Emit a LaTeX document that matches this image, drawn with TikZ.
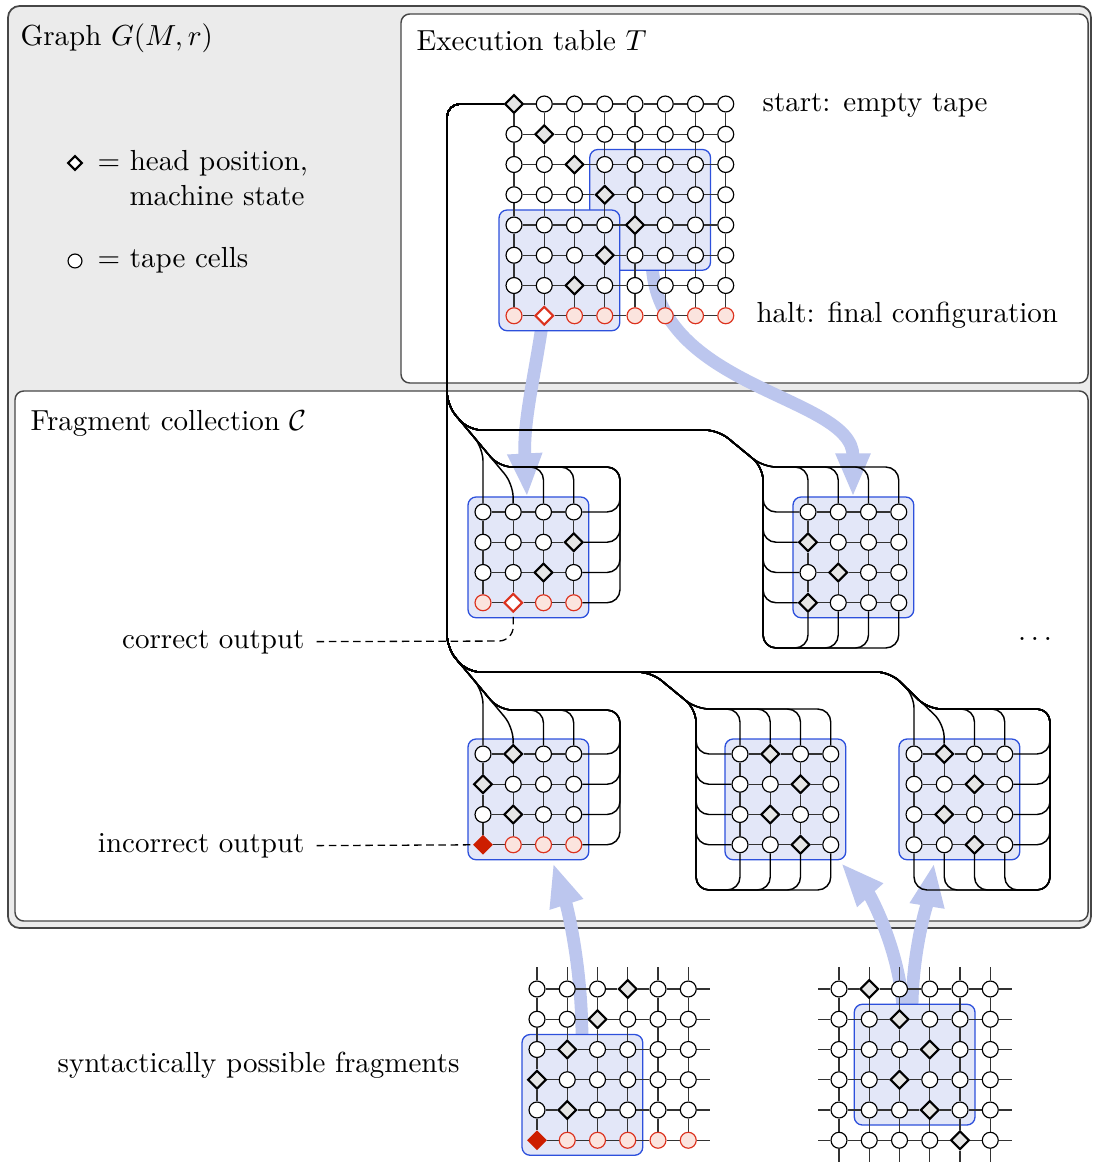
\documentclass[tikz,border=0pt]{standalone}
\usetikzlibrary{shapes.geometric,arrows.meta,calc}
\definecolor{bgray}{RGB}{235,235,235}
\definecolor{framec}{RGB}{70,70,70}
\definecolor{boxfill}{RGB}{227,231,248}
\definecolor{boxline}{RGB}{45,80,220}
\definecolor{arrowc}{RGB}{188,198,238}
\definecolor{redline}{RGB}{220,50,30}
\definecolor{redfill}{RGB}{251,228,222}
\definecolor{redfull}{RGB}{205,30,0}
\definecolor{diamfill}{RGB}{230,230,230}
\pgfdeclarelayer{frames}
\pgfdeclarelayer{arrowlayer}
\pgfdeclarelayer{boxlayer}
\pgfdeclarelayer{lines}
\pgfsetlayers{frames,arrowlayer,boxlayer,lines,main}
\tikzset{
  cellc/.style={circle,draw=black,fill=white,line width=0.4pt,minimum size=5.5pt,inner sep=0pt},
  celld/.style={diamond,draw=black,fill=diamfill,line width=0.75pt,minimum size=6.4pt,inner sep=0pt},
  cello/.style={circle,draw=redline,fill=redfill,line width=0.4pt,minimum size=5.5pt,inner sep=0pt},
  cellx/.style={diamond,draw=redline,fill=white,line width=0.75pt,minimum size=6.4pt,inner sep=0pt},
  cellf/.style={diamond,draw=redfull,fill=redfull,line width=0.4pt,minimum size=6.4pt,inner sep=0pt},
  legd/.style={diamond,draw=black,fill=white,line width=0.75pt,minimum size=5pt,inner sep=0pt},
  legc/.style={circle,draw=black,fill=white,line width=0.4pt,minimum size=4.8pt,inner sep=0pt},
  gridline/.style={draw=black!80,line width=0.42pt},
  bundle/.style={draw=black,line width=0.5pt,rounded corners=4.5pt},
  bluebox/.style={draw=boxline,fill=boxfill,line width=0.45pt,rounded corners=2.8pt},
  bigarrow/.style={draw=arrowc,line width=4.4pt,-{Triangle[width=11pt,length=15pt]}},
  boxframe/.style={draw=framec,line width=0.5pt},
  lbl/.style={inner sep=0pt,font=\normalsize},
  dashline/.style={draw=black,line width=0.45pt,dash pattern=on 2.6pt off 1.6pt,rounded corners=5pt},
}
\newcommand\mkgrid[4]{%
  \foreach \rspec [count=\ri from 0] in {#4} {%
    \foreach \tp [count=\ci from 0] in \rspec {%
      \node[cell\tp] (#1-\ri-\ci) at ({#2+\ci*30.25},{#3+\ri*30.25}) {};
    }%
  }%
}
\newcommand\mkedges[3]{%
  \foreach \ri in {0,...,#2} {\foreach \ci in {1,...,#3} {%
    \pgfmathtruncatemacro\cp{\ci-1}%
    \draw[gridline] (#1-\ri-\cp) -- (#1-\ri-\ci);}}%
  \foreach \ci in {0,...,#3} {\foreach \ri in {1,...,#2} {%
    \pgfmathtruncatemacro\rp{\ri-1}%
    \draw[gridline] (#1-\rp-\ci) -- (#1-\ri-\ci);}}%
}
\begin{document}
\begin{tikzpicture}[x=0.3448pt,y=-0.3448pt]
\useasboundingbox (0,0) rectangle (1092,1162);

% frames
\begin{pgfonlayer}{frames}
\draw[boxframe,fill=bgray,rounded corners=4pt,line width=0.6pt] (8,6) rectangle (1091,928);
\draw[boxframe,fill=white,rounded corners=3pt] (401,14) rectangle (1088,383);
\draw[boxframe,fill=white,rounded corners=3pt] (15,391) rectangle (1088,921);
\end{pgfonlayer}

% texts
\node[lbl,anchor=base west] (ttlG) at (20,46) {Graph $G(M,r)$};
\node[lbl,anchor=base west] (ttlT) at (416,51) {Execution table $T$};
\node[lbl,anchor=base west] (ttlC) at (30,431) {Fragment collection $\mathcal{C}$};
\node[lbl,anchor=base west] (start) at (762,112) {start: empty tape};
\node[lbl,anchor=base west] (halt) at (756,323) {halt: final configuration};
\node[legd] (legD) at (75,163) {};
\node[legc] (legC) at (75,261) {};
\node[lbl,anchor=base west] (leg1) at (97,171) {$=$ head position,};
\node[lbl,anchor=base west] (leg2) at (129,206) {machine state};
\node[lbl,anchor=base west] (leg3) at (97,268) {$=$ tape cells};
\node[lbl,anchor=base east] (lcor) at (305,648) {correct output};
\node[lbl,anchor=base east] (linc) at (305,852) {incorrect output};
\node[lbl,anchor=base west] (syn) at (57,1072) {syntactically possible fragments};
\node[lbl,anchor=base] (dots) at (1035,640) {$\dots$};

% grids
\mkgrid{T}{514}{104}{{d,c,c,c,c,c,c,c},{c,d,c,c,c,c,c,c},{c,c,d,c,c,c,c,c},{c,c,c,d,c,c,c,c},{c,c,c,c,d,c,c,c},{c,c,c,d,c,c,c,c},{c,c,d,c,c,c,c,c},{o,x,o,o,o,o,o,o}}
\mkgrid{F1}{483}{512}{{c,c,c,c},{c,c,c,d},{c,c,d,c},{o,x,o,o}}
\mkgrid{F2}{808}{512}{{c,c,c,c},{d,c,c,c},{c,d,c,c},{d,c,c,c}}
\mkgrid{F3}{483}{754}{{c,d,c,c},{d,c,c,c},{c,d,c,c},{f,o,o,o}}
\mkgrid{F4}{740}{754}{{c,d,c,c},{c,c,d,c},{c,d,c,c},{c,c,d,c}}
\mkgrid{F5}{914}{754}{{c,d,c,c},{c,c,d,c},{c,d,c,c},{c,c,d,c}}
\mkgrid{A}{537}{989}{{c,c,c,d,c,c},{c,c,d,c,c,c},{c,d,c,c,c,c},{d,c,c,c,c,c},{c,d,c,c,c,c},{f,o,o,o,o,o}}
\mkgrid{B}{839}{989}{{c,d,c,c,c,c},{c,c,d,c,c,c},{c,c,c,d,c,c},{c,c,d,c,c,c},{c,c,c,d,c,c},{c,c,c,c,d,c}}

% blue boxes
\begin{pgfonlayer}{boxlayer}
\draw[bluebox] ($(T-2-3)+(-15,-15)$) rectangle ($(T-5-6)+(15,15)$);
\draw[bluebox] ($(T-4-0)+(-15,-15)$) rectangle ($(T-7-3)+(15,15)$);
\foreach \fr in {F1,F2,F3,F4,F5} {\draw[bluebox] ($(\fr-0-0)+(-15,-15)$) rectangle ($(\fr-3-3)+(15,15)$);}
\draw[bluebox] ($(A-2-0)+(-15,-15)$) rectangle ($(A-5-3)+(15,15)$);
\draw[bluebox] ($(B-1-1)+(-15,-15)$) rectangle ($(B-4-4)+(15,15)$);
\end{pgfonlayer}

% big arrows
\begin{pgfonlayer}{arrowlayer}
\coordinate (a1s) at (543,318); \coordinate (a1e) at (527,497);
\coordinate (a2s) at (652,262); \coordinate (a2e) at (853,497);
\coordinate (a3s) at (582,1040); \coordinate (a3e) at (553,863);
\coordinate (a4s) at (903,1010); \coordinate (a4e) at (841,863);
\coordinate (a5s) at (912,1010); \coordinate (a5e) at (934,863);
\draw[bigarrow] (a1s) .. controls (536,370) and (523,420) .. (a1e);
\draw[bigarrow] (a2s) .. controls (655,390) and (853,395) .. (a2e);
\draw[bigarrow] (a3s) .. controls (582,960) and (565,900) .. (a3e);
\draw[bigarrow] (a4s) .. controls (900,950) and (870,895) .. (a4e);
\draw[bigarrow] (a5s) .. controls (912,950) and (928,900) .. (a5e);
\end{pgfonlayer}

% corner coordinates of the bundles
\coordinate (tA) at (447,104);
\coordinate (tU) at (447,405);
\coordinate (tL) at (447,648);
\coordinate (f1d) at (499,467); \coordinate (f1r) at (620,467);
\coordinate (f2a) at (468,430); \coordinate (f2b) at (718,430); \coordinate (f2c) at (763,467); \coordinate (f2e) at (763,648);
\coordinate (f3d) at (499,710); \coordinate (f3r) at (620,710);
\coordinate (f4a) at (467,672); \coordinate (f4b) at (651,672); \coordinate (f4c) at (696,709); \coordinate (f4e) at (696,890);
\coordinate (f5b) at (890,672); \coordinate (f5c) at (928,709); \coordinate (f5r) at (1050,709); \coordinate (f5e) at (1050,890);

\begin{pgfonlayer}{lines}
\mkedges{T}{7}{7}
\foreach \fr in {F1,F2,F3,F4,F5} {\mkedges{\fr}{3}{3}}
\mkedges{A}{5}{5}
\mkedges{B}{5}{5}
% stubs
\foreach \ci in {0,...,5} {\draw[gridline] (A-0-\ci) -- (A-0-\ci |- 0,967);}
\foreach \ri in {0,...,5} {\draw[gridline] (A-\ri-5) -- (A-\ri-5 -| 710,0);}
\foreach \ci in {0,...,5} {\draw[gridline] (B-0-\ci) -- (B-0-\ci |- 0,967);
  \draw[gridline] (B-5-\ci) -- (B-5-\ci |- 0,1162);}
\foreach \ri in {0,...,5} {\draw[gridline] (B-\ri-0) -- (B-\ri-0 -| 818,0);
  \draw[gridline] (B-\ri-5) -- (B-\ri-5 -| 1012,0);}

% fragment 1
\draw[bundle] (T-0-0) -- (tA) -- (tU) -- (483,448) -- (F1-0-0);
\draw[bundle] (T-0-0) -- (tA) -- (tU) -- (513,484) -- (F1-0-1);
\foreach \ci in {2,3} {\draw[bundle] (T-0-0) -- (tA) -- (tU) -- (f1d) -- (F1-0-\ci |- f1d) -- (F1-0-\ci);}
\foreach \ri in {0,...,3} {\draw[bundle] (T-0-0) -- (tA) -- (tU) -- (f1d) -- (f1r) -- (f1r |- F1-\ri-3) -- (F1-\ri-3);}
% fragment 2
\foreach \ci in {0,...,3} {\draw[bundle] (T-0-0) -- (tA) -- (tU) -- (f2a) -- (f2b) -- (f2c) -- (F2-0-\ci |- f2c) -- (F2-0-\ci);}
\foreach \ri in {0,...,3} {\draw[bundle] (T-0-0) -- (tA) -- (tU) -- (f2a) -- (f2b) -- (f2c) -- (f2c |- F2-\ri-0) -- (F2-\ri-0);}
\foreach \ci in {0,...,3} {\draw[bundle] (T-0-0) -- (tA) -- (tU) -- (f2a) -- (f2b) -- (f2c) -- (f2e) -- (F2-3-\ci |- f2e) -- (F2-3-\ci);}
% fragment 3
\draw[bundle] (T-0-0) -- (tA) -- (tL) -- (483,691) -- (F3-0-0);
\draw[bundle] (T-0-0) -- (tA) -- (tL) -- (513,727) -- (F3-0-1);
\foreach \ci in {2,3} {\draw[bundle] (T-0-0) -- (tA) -- (tL) -- (f3d) -- (F3-0-\ci |- f3d) -- (F3-0-\ci);}
\foreach \ri in {0,...,3} {\draw[bundle] (T-0-0) -- (tA) -- (tL) -- (f3d) -- (f3r) -- (f3r |- F3-\ri-3) -- (F3-\ri-3);}
% fragment 4
\foreach \ci in {0,...,3} {\draw[bundle] (T-0-0) -- (tA) -- (tL) -- (f4a) -- (f4b) -- (f4c) -- (F4-0-\ci |- f4c) -- (F4-0-\ci);}
\foreach \ri in {0,...,3} {\draw[bundle] (T-0-0) -- (tA) -- (tL) -- (f4a) -- (f4b) -- (f4c) -- (f4c |- F4-\ri-0) -- (F4-\ri-0);}
\foreach \ci in {0,...,3} {\draw[bundle] (T-0-0) -- (tA) -- (tL) -- (f4a) -- (f4b) -- (f4c) -- (f4e) -- (F4-3-\ci |- f4e) -- (F4-3-\ci);}
% fragment 5
\draw[bundle] (T-0-0) -- (tA) -- (tL) -- (f4a) -- (f5b) -- (914,695) -- (F5-0-0);
\draw[bundle] (T-0-0) -- (tA) -- (tL) -- (f4a) -- (f5b) -- (944,724) -- (F5-0-1);
\foreach \ci in {2,3} {\draw[bundle] (T-0-0) -- (tA) -- (tL) -- (f4a) -- (f5b) -- (f5c) -- (F5-0-\ci |- f5c) -- (F5-0-\ci);}
\foreach \ri in {0,...,3} {\draw[bundle] (T-0-0) -- (tA) -- (tL) -- (f4a) -- (f5b) -- (f5c) -- (f5r) -- (f5r |- F5-\ri-3) -- (F5-\ri-3);}
\foreach \ci in {0,...,3} {\draw[bundle] (T-0-0) -- (tA) -- (tL) -- (f4a) -- (f5b) -- (f5c) -- (f5r) -- (f5e) -- (F5-3-\ci |- f5e) -- (F5-3-\ci);}

% dashed pointers
\draw[dashline] ([shift={(4pt,2.2pt)}]lcor.base east) -- (F1-3-1 |- 0,641) -- (F1-3-1);
\draw[dashline] ([shift={(4pt,2.2pt)}]linc.base east) -- (F3-3-0);
\end{pgfonlayer}
\end{tikzpicture}
\end{document}
